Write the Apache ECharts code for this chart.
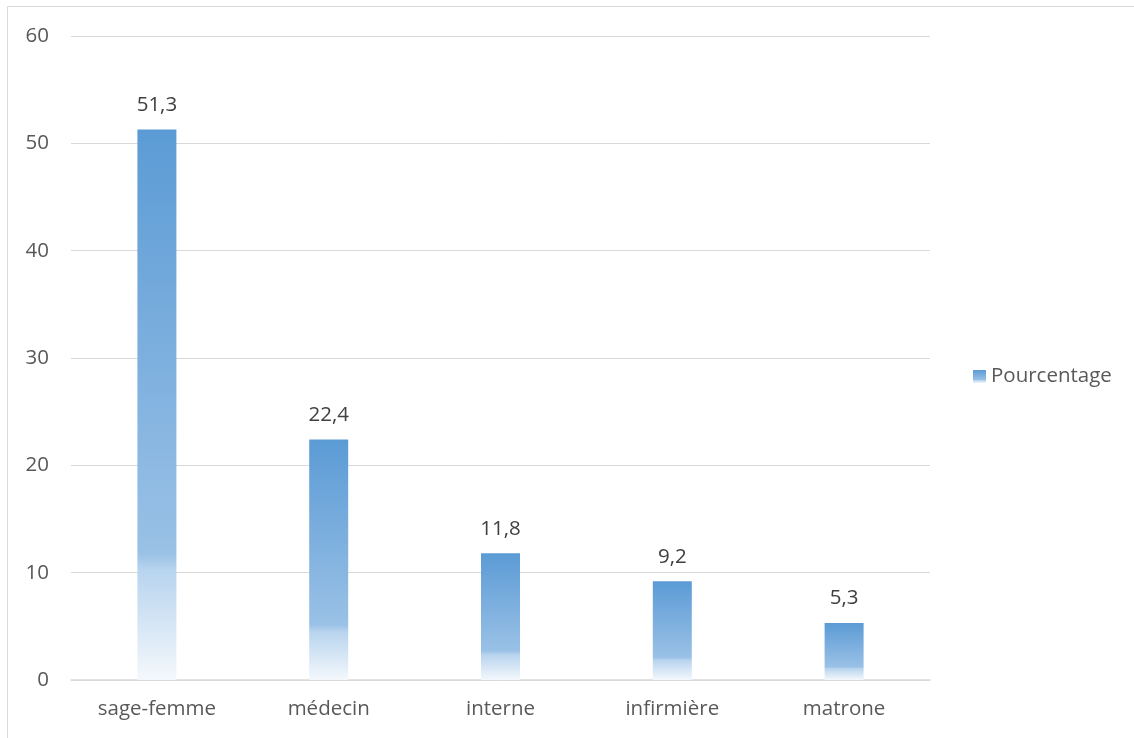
<!DOCTYPE html>
<html><head><meta charset="utf-8">
<script src="https://cdn.jsdelivr.net/npm/echarts@6/dist/echarts.min.js"></script>
<style>html,body{margin:0;padding:0;background:#fff}#c{width:1134px;height:738px}</style>
</head><body><div id="c"></div>
<script>
var categories = ['sage-femme', 'médecin', 'interne', 'infirmière', 'matrone'];
var values = [51.3, 22.4, 11.8, 9.2, 5.3];
var seriesName = 'Pourcentage';
var yTicks = [0, 10, 20, 30, 40, 50, 60];

var grad = new echarts.graphic.LinearGradient(0, 0, 0, 1, [
  {offset: 0, color: '#5B9BD5'},
  {offset: 0.77, color: '#9AC1E6'},
  {offset: 0.8, color: '#B8D4EE'},
  {offset: 1, color: '#F4F8FC'}
]);
var font = '"Open Sans", "Liberation Sans", sans-serif';
var chart = echarts.init(document.getElementById('c'));
chart.setOption({
  animation: false,
  textStyle: {fontFamily: font},
  graphic: [{type: 'rect', shape: {x: 7.5, y: 6.5, width: 1200, height: 800}, style: {fill: 'none', stroke: '#D9D9D9', lineWidth: 1}, z: -1}],
  grid: {left: 71, right: 204, top: 36, bottom: 58},
  legend: {
    orient: 'vertical', left: 968, top: 361, itemWidth: 13, itemHeight: 13, itemGap: 6,
    icon: 'rect',
    textStyle: {color: '#595959', fontSize: 20.5, fontFamily: font},
    data: [seriesName]
  },
  xAxis: {
    type: 'category', data: categories,
    axisLine: {lineStyle: {color: '#D9D9D9', width: 1.5}},
    axisTick: {show: false},
    axisLabel: {color: '#595959', fontSize: 20.5, margin: 19}
  },
  yAxis: {
    type: 'value', min: 0, max: 60, interval: 10,
    axisLine: {show: false}, axisTick: {show: false},
    splitLine: {lineStyle: {color: '#D9D9D9'}},
    axisLabel: {color: '#595959', fontSize: 20.5, margin: 22,
      formatter: function (v) { return yTicks.indexOf(v) >= 0 ? String(v) : ''; }}
  },
  series: [{
    name: seriesName, type: 'bar', data: values, barWidth: 39,
    itemStyle: {color: grad},
    label: {show: true, position: 'top', distance: 14, color: '#404040', fontSize: 20.5,
      formatter: function (p) { return String(p.value).replace('.', ','); }}
  }]
});
</script></body></html>
